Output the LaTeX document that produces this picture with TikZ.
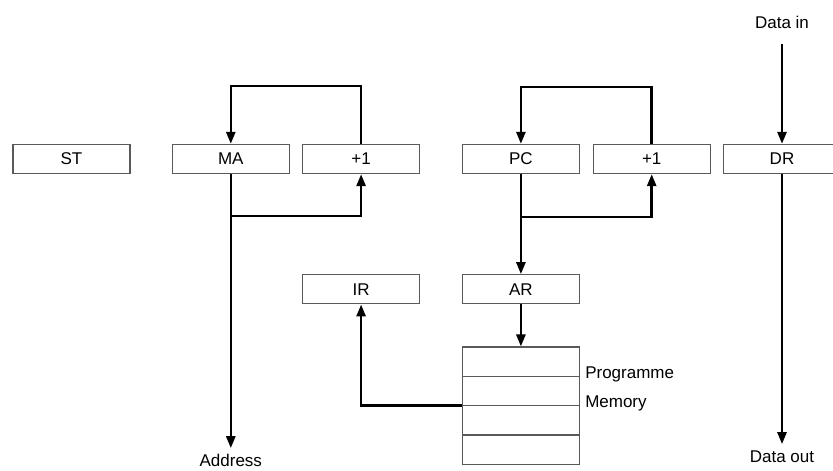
\documentclass[tikz,border=0pt]{standalone}
\usepackage{fontspec}
\setmainfont{Liberation Sans}
\usetikzlibrary{positioning,shapes,arrows.meta}
\begin{document}
\begin{tikzpicture}[x=1pt,y=-1pt,reg/.style={draw=black!65,line width=1.3pt,minimum width=117pt,minimum height=29pt,inner sep=0pt,font=\fontsize{17}{20}\selectfont},wire/.style={line width=2.6pt,-{Triangle[length=12pt,width=9pt]}},lbl/.style={inner sep=6pt,font=\fontsize{17}{20}\selectfont}]
\useasboundingbox (0,0) rectangle (833,471);
\node[reg](ST) at (71.5,159) {ST};
\node[reg,right=41pt of ST](MA) {MA};
\node[reg,right=12pt of MA](incA) {+1};
\node[reg,right=41.5pt of incA](PC) {PC};
\node[reg,right=12.5pt of PC](incB) {+1};
\node[reg,right=12pt of incB](DR) {DR};
\node[reg,below=100pt of incA](IR) {IR};
\node[reg,below=100pt of PC](AR) {AR};
\node[reg,below=42pt of AR,shape=rectangle split,rectangle split parts=4,minimum height=0pt,rectangle split empty part height=28pt,rectangle split empty part depth=0pt](mem) {};
\node[lbl,anchor=west](prog) at ([xshift=-1pt,yshift=2pt]mem.one split east) {Programme};
\node[lbl,anchor=west](memlbl) at ([xshift=-1pt,yshift=2pt]mem.two split east) {Memory};
\node[lbl,below=274pt of MA](addr) {Address};
\node[lbl,above=109pt of DR](din) {Data in};
\node[lbl,below=270pt of DR](dout) {Data out};
% increment loops
\draw[wire] (incA.north) -- ++(0,-58) -| (MA.north);
\draw[wire] (MA.south) -- ++(0,42) -| (incA.south);
\draw[wire] (MA.south) -- (addr);
\draw[wire] (incB.north) -- ++(0,-57) -| (PC.north);
\draw[wire] (PC.south) -- ++(0,43) -| (incB.south);
\draw[wire] (PC.south) -- (AR.north);
\draw[wire] (AR.south) -- (mem.north);
\draw[wire] (mem.two split west) -| (IR.south);
% data register
\draw[wire,shorten <=9pt] (din) -- (DR);
\draw[wire] (DR) -- (dout);
\end{tikzpicture}
\end{document}
